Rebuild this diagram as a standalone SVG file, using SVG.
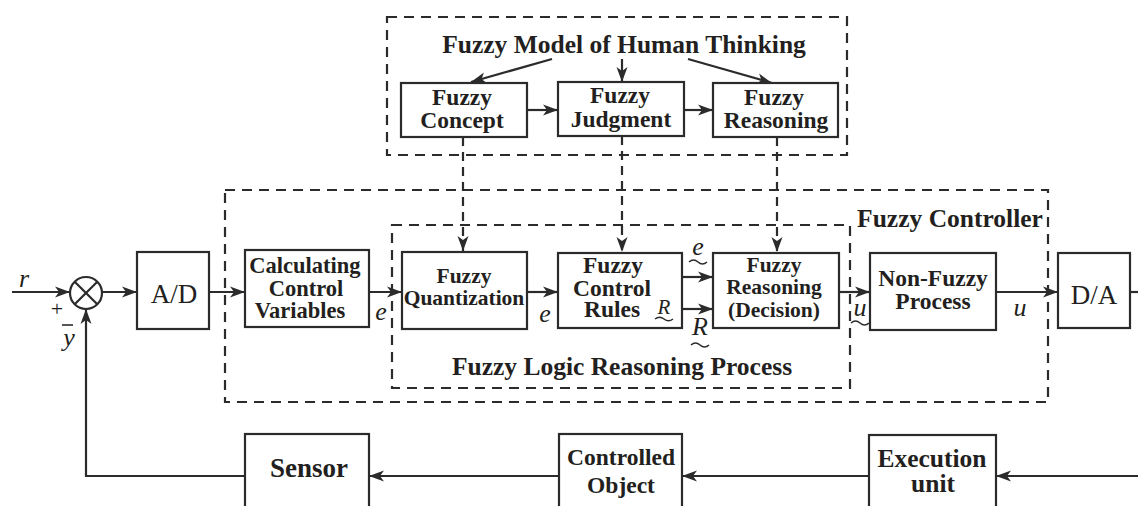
<svg xmlns="http://www.w3.org/2000/svg" width="1138" height="506" viewBox="0 0 1138 506">
  <style>
    .box { fill: #fff; stroke: #2b2b2b; stroke-width: 2.2; }
    .dash { fill: none; stroke: #2b2b2b; stroke-width: 2.2; stroke-dasharray: 10 7; }
    .ln { fill: none; stroke: #2b2b2b; stroke-width: 2.2; }
    .arr { fill: none; stroke: #2b2b2b; stroke-width: 2.2; marker-end: url(#ah); }
    .darr { fill: none; stroke: #2b2b2b; stroke-width: 2.2; stroke-dasharray: 9 6; marker-end: url(#ah); }
    .tw { fill: none; stroke: #2b2b2b; stroke-width: 1.5; }
    text { font-family: "Liberation Serif", "Times New Roman", serif; fill: #231f20; text-anchor: middle; }
    .b { font-weight: bold; }
    .s21 { font-size: 21.5px; }
    .s23 { font-size: 23.5px; }
    .s25 { font-size: 25.5px; }
    .s27 { font-size: 27px; }
    .it { font-style: italic; font-size: 26px; }
    .rg { font-size: 27px; }
  </style>
  <defs>
    <marker id="ah" markerUnits="userSpaceOnUse" markerWidth="16" markerHeight="12" refX="15" refY="6" orient="auto">
      <path d="M0,0.5 L15,6 L0,11.5 L4,6 Z" fill="#2b2b2b"/>
    </marker>
  </defs>

  <!-- grouping frames -->
  <g id="fuzzy-model">
    <rect class="dash" x="387" y="17" width="460" height="138"/>
    <text class="b s25" x="624" y="53">Fuzzy Model of Human Thinking</text>
  </g>
  <g id="fuzzy-controller">
    <rect class="dash" x="225" y="190" width="823" height="212"/>
    <text class="b s25" x="950" y="227">Fuzzy Controller</text>
  </g>
  <g id="fuzzy-logic-process">
    <rect class="dash" x="392" y="225" width="458" height="163"/>
    <text class="b s25" x="622" y="375">Fuzzy Logic Reasoning Process</text>
  </g>

  <!-- connectors -->
  <g id="connectors">
    <!-- from the model title to the three boxes -->
    <line class="arr" x1="552" y1="59" x2="471" y2="82"/>
    <line class="arr" x1="622" y1="59" x2="622" y2="82"/>
    <line class="arr" x1="688" y1="59" x2="772" y2="83"/>
    <line class="arr" x1="527" y1="110" x2="558" y2="110"/>
    <line class="arr" x1="684" y1="110" x2="713" y2="110"/>
    <!-- dashed links down to the reasoning process -->
    <line class="darr" x1="463" y1="137" x2="463" y2="251"/>
    <line class="darr" x1="622" y1="136" x2="622" y2="252"/>
    <line class="darr" x1="777" y1="137" x2="777" y2="252"/>
    <!-- forward path -->
    <line class="arr" x1="12" y1="292" x2="70" y2="292"/>
    <line class="arr" x1="102" y1="292" x2="137" y2="292"/>
    <line class="arr" x1="209" y1="292" x2="245" y2="292"/>
    <line class="arr" x1="369" y1="292" x2="402" y2="292"/>
    <line class="arr" x1="527" y1="292" x2="558" y2="292"/>
    <line class="arr" x1="682" y1="277" x2="713" y2="277"/>
    <line class="arr" x1="682" y1="309" x2="713" y2="309"/>
    <line class="arr" x1="839" y1="292" x2="870" y2="292"/>
    <line class="arr" x1="996" y1="292" x2="1058" y2="292"/>
    <line class="ln" x1="1130" y1="292" x2="1138" y2="292"/>
    <!-- plant loop -->
    <line class="arr" x1="1138" y1="476" x2="996" y2="476"/>
    <line class="arr" x1="869" y1="476" x2="682" y2="476"/>
    <line class="arr" x1="559" y1="476" x2="369" y2="476"/>
    <polyline class="arr" points="245,476 86,476 86,309"/>
  </g>

  <!-- signal labels -->
  <g id="signal-labels">
    <text class="it" x="24" y="287">r</text>
    <text class="rg" style="font-size:22px" x="57" y="316">+</text>
    <line class="ln" x1="62" y1="325" x2="73" y2="325" style="stroke-width:1.6"/>
    <text class="it" x="69" y="346">y</text>
    <text class="it" x="381" y="320">e</text>
    <text class="it" x="545" y="322">e</text>
    <text class="it" x="698" y="255">e</text>
    <path class="tw" d="M689,262 Q693.5,258 698,262 T707,262"/>
    <text class="it" x="700" y="335">R</text>
    <path class="tw" d="M691,345 Q695.5,341 700,345 T709,345"/>
    <text class="it" x="860" y="316">u</text>
    <path class="tw" d="M851,323 Q855.5,319 860,323 T869,323"/>
    <text class="it" x="1020" y="316">u</text>
  </g>

  <!-- nodes -->
  <g id="sum">
    <circle cx="86" cy="293" r="16" fill="#fff" stroke="#2b2b2b" stroke-width="2.2"/>
    <path class="ln" d="M74.7,281.7 L97.3,304.3 M97.3,281.7 L74.7,304.3"/>
  </g>
  <g id="fuzzy-concept">
    <rect class="box" x="401" y="83" width="126" height="54"/>
    <text class="b s23" x="462" y="105">Fuzzy</text>
    <text class="b s23" x="462" y="128">Concept</text>
  </g>
  <g id="fuzzy-judgment">
    <rect class="box" x="558" y="82" width="126" height="54"/>
    <text class="b s23" x="620" y="103">Fuzzy</text>
    <text class="b s23" x="621" y="127">Judgment</text>
  </g>
  <g id="fuzzy-reasoning">
    <rect class="box" x="713" y="83" width="125" height="54"/>
    <text class="b s23" x="774" y="105">Fuzzy</text>
    <text class="b s23" x="776" y="128">Reasoning</text>
  </g>
  <g id="ad">
    <rect class="box" x="137" y="252" width="72" height="77"/>
    <text class="rg" x="174" y="303">A/D</text>
  </g>
  <g id="calculating">
    <rect class="box" x="245" y="250" width="124" height="77"/>
    <text class="b" style="font-size:22.5px" x="305" y="273">Calculating</text>
    <text class="b" style="font-size:22.5px" x="306" y="296">Control</text>
    <text class="b" style="font-size:22.5px" x="300" y="318">Variables</text>
  </g>
  <g id="fuzzy-quantization">
    <rect class="box" x="402" y="252" width="125" height="77"/>
    <text class="b s21" x="464" y="283">Fuzzy</text>
    <text class="b s21" x="464" y="305">Quantization</text>
  </g>
  <g id="fuzzy-control-rules">
    <rect class="box" x="558" y="253" width="124" height="75"/>
    <text class="b s23" x="613" y="273">Fuzzy</text>
    <text class="b s23" x="612" y="296">Control</text>
    <text class="b s23" x="612" y="317">Rules</text>
    <text class="it" style="font-size:21px" x="664" y="314">R</text>
    <path class="tw" d="M655,319 Q659.5,315.5 664,319 T673,319"/>
  </g>
  <g id="fuzzy-decision">
    <rect class="box" x="713" y="253" width="126" height="75"/>
    <text class="b s21" x="774" y="272">Fuzzy</text>
    <text class="b s21" x="774" y="294">Reasoning</text>
    <text class="b s21" x="774" y="317">(Decision)</text>
  </g>
  <g id="non-fuzzy">
    <rect class="box" x="870" y="253" width="126" height="77"/>
    <text class="b s23" x="933" y="286">Non-Fuzzy</text>
    <text class="b s23" x="933" y="309">Process</text>
  </g>
  <g id="da">
    <rect class="box" x="1058" y="253" width="72" height="75"/>
    <text class="rg" x="1094" y="304">D/A</text>
  </g>
  <g id="sensor">
    <rect class="box" x="245" y="434" width="124" height="90"/>
    <text class="b s27" x="309" y="477">Sensor</text>
  </g>
  <g id="controlled-object">
    <rect class="box" x="559" y="434" width="123" height="90"/>
    <text class="b s23" x="621" y="465">Controlled</text>
    <text class="b s23" x="621" y="493">Object</text>
  </g>
  <g id="execution-unit">
    <rect class="box" x="869" y="435" width="127" height="90"/>
    <text class="b" style="font-size:25.5px" x="932" y="467">Execution</text>
    <text class="b" style="font-size:25.5px" x="933" y="492">unit</text>
  </g>
</svg>
